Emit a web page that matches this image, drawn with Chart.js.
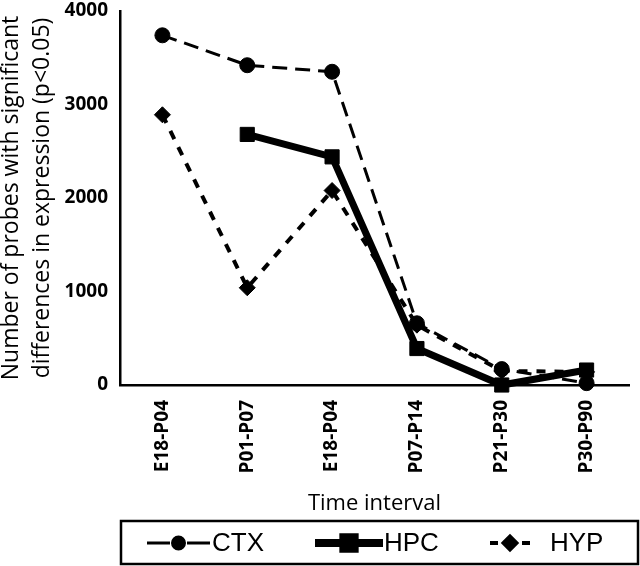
<!DOCTYPE html>
<html lang="en">
<head>
<meta charset="UTF-8">
<script src="https://cdn.jsdelivr.net/npm/chart.js"></script>
<title>Probes per time interval</title>
<style>
  body { margin: 0; background: #fff; }
  #wrap { width: 640px; height: 566px; }
</style>
</head>
<body>
<div id="wrap"><canvas id="probeChart"></canvas></div>
<script>
  // values
  const intervals = ['E18-P04', 'P01-P07', 'E18-P04', 'P07-P14', 'P21-P30', 'P30-P90'];
  const ctxValues = [3740, 3420, 3350, 660, 170, 20];
  const hpcValues = [null, 2680, 2440, 390, 0, 160];
  const hypValues = [2890, 1040, 2080, 640, 150, 140];
  const yTicks = [0, 1000, 2000, 3000, 4000];

  const tickFont = { family: 'Open Sans', size: 19, weight: 'bold' };

  // legend drawn by hand: line sample with the marker in the middle, then the name
  const boxLegend = {
    id: 'boxLegend',
    afterDraw(chart) {
      const c = chart.ctx;
      const sets = chart.data.datasets;
      const items = [
        { x0: 147, x1: 210, tx: 212, w: 3, dash: [23, 17] },
        { x0: 315, x1: 383, tx: 384, w: 8, dash: [] },
        { x0: 490, x1: 530, tx: 550, w: 4, dash: [8, 8] }
      ];
      const midY = 543;
      c.save();
      c.strokeStyle = '#000';
      c.lineWidth = 2.5;
      c.strokeRect(121, 521, 517, 43);
      sets.forEach((ds, i) => {
        const it = items[i];
        c.beginPath();
        c.setLineDash(it.dash);
        c.lineWidth = it.w;
        c.strokeStyle = '#000';
        c.moveTo(it.x0, midY);
        c.lineTo(it.x1, midY);
        c.stroke();
        c.setLineDash([]);
        c.fillStyle = '#000';
        Chart.helpers.drawPoint(c, {
          pointStyle: ds.pointStyle,
          radius: ds.pointRadius * 0.8,
          borderWidth: 1
        }, (it.x0 + it.x1) / 2, midY);
        c.font = '26px "Liberation Sans", Arial, sans-serif';
        c.textBaseline = 'middle';
        c.textAlign = 'left';
        c.fillText(ds.label, it.tx, midY + 1);
      });
      c.restore();
    }
  };

  function pointSet(label, data, width, dash, style, radius) {
    return {
      label: label,
      data: data,
      borderColor: '#000',
      backgroundColor: '#000',
      borderWidth: width,
      borderDash: dash,
      pointStyle: style,
      pointRadius: radius,
      pointHoverRadius: radius,
      pointBorderWidth: 1,
      pointBackgroundColor: '#000',
      pointBorderColor: '#000',
      tension: 0,
      clip: false
    };
  }

  Chart.defaults.color = '#000';
  Chart.defaults.font.family = 'Open Sans';

  new Chart(document.getElementById('probeChart'), {
    type: 'line',
    data: {
      labels: intervals,
      datasets: [
        pointSet('CTX', ctxValues, 3, [15, 8], 'circle', 7.5),
        pointSet('HPC', hpcValues, 7, [], 'rect', 10),
        pointSet('HYP', hypValues, 4, [9, 9], 'rectRot', 8)
      ]
    },
    plugins: [boxLegend],
    options: {
      responsive: true,
      maintainAspectRatio: false,
      animation: false,
      events: [],
      layout: { padding: { top: 7, right: 0, bottom: 51, left: 0 } },
      plugins: {
        legend: { display: false },
        tooltip: { enabled: false }
      },
      scales: {
        x: {
          offset: true,
          grid: { display: false, drawTicks: false },
          border: { display: true, color: '#000', width: 2.5 },
          ticks: { font: tickFont, maxRotation: 90, minRotation: 90, padding: 15 },
          title: {
            display: true,
            text: 'Time interval',
            font: { family: 'Open Sans', size: 22 },
            padding: { top: 0, bottom: -2 }
          },
          afterFit(s) { s.height = 130; s.paddingLeft = 0; s.paddingRight = 0; }
        },
        y: {
          min: 0,
          max: 4000,
          afterBuildTicks(s) { s.ticks = yTicks.map(v => ({ value: v })); },
          grid: { display: false, drawTicks: false },
          border: { display: true, color: '#000', width: 2.5 },
          ticks: { font: tickFont, padding: 12, callback: v => String(v) },
          title: {
            display: true,
            text: ['Number of probes with significant', 'differences in expression (p<0.05)'],
            font: { family: 'Open Sans', size: 23, lineHeight: 1.35 },
            padding: { top: -4, bottom: 0 }
          },
          afterFit(s) { s.width = 120; s.paddingTop = 0; s.paddingBottom = 0; }
        }
      }
    }
  });
</script>
</body>
</html>
